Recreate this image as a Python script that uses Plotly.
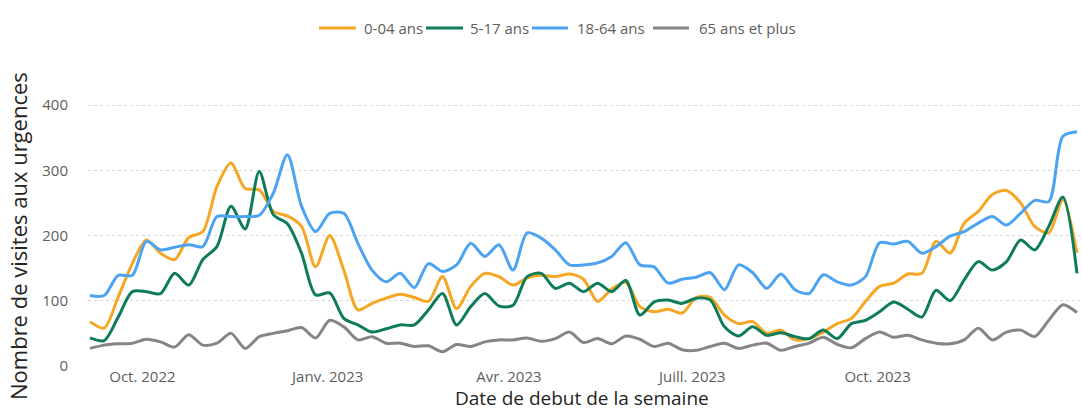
import pandas as pd
import plotly.graph_objects as go

weeks = [d.strftime("%Y-%m-%d") for d in pd.date_range("2022-09-05", periods=71, freq="7D")]

age_0_04 = [68, 58, 106, 157, 193, 173, 163, 197, 206, 275,
            311, 272, 270, 237, 230, 214, 152, 200, 147, 86,
            96, 104, 110, 105, 99, 137, 88, 122, 142, 137,
            124, 135, 139, 137, 141, 133, 99, 118, 128, 91,
            83, 87, 81, 105, 105, 78, 65, 68, 50, 55,
            40, 42, 52, 65, 73, 99, 122, 127, 141, 142,
            191, 173, 219, 237, 263, 269, 250, 214, 204, 255,
            173]
age_5_17 = [43, 39, 75, 114, 114, 111, 142, 124, 163, 183,
            245, 210, 298, 232, 218, 173, 109, 112, 73, 63,
            52, 57, 63, 63, 86, 111, 63, 91, 111, 92,
            93, 137, 142, 119, 127, 114, 127, 114, 131, 78,
            98, 101, 96, 104, 101, 60, 46, 60, 47, 51,
            45, 42, 55, 42, 65, 70, 83, 98, 87, 75,
            116, 100, 132, 160, 147, 160, 193, 178, 214, 259,
            142]
age_18_64 = [108, 108, 139, 139, 191, 178, 182, 186, 183, 229,
             229, 229, 231, 265, 324, 245, 206, 234, 234, 188,
             147, 129, 142, 120, 157, 145, 155, 188, 168, 186,
             147, 204, 196, 178, 155, 155, 158, 168, 189, 155,
             152, 127, 133, 136, 143, 117, 155, 143, 119, 141,
             117, 111, 140, 129, 124, 137, 189, 187, 191, 173,
             183, 199, 206, 219, 229, 216, 234, 254, 252, 352,
             359]
age_65_plus = [27, 32, 34, 35, 41, 37, 29, 48, 32, 35,
               50, 27, 45, 50, 54, 59, 43, 70, 60, 40,
               45, 35, 35, 30, 31, 22, 33, 30, 37, 40,
               40, 43, 38, 42, 52, 36, 42, 34, 46, 41,
               30, 35, 25, 24, 30, 35, 27, 32, 35, 24,
               30, 35, 44, 33, 28, 42, 52, 44, 47, 40,
               35, 34, 40, 58, 40, 52, 55, 45, 70, 94,
               82]

series_names = ["0-04 ans", "5-17 ans", "18-64 ans", "65 ans et plus"]
series_values = [age_0_04, age_5_17, age_18_64, age_65_plus]
colors = ["#F5A623", "#0E7C5A", "#4BA3F2", "#858585"]

x_tick_vals = ["2022-10-01", "2023-01-01", "2023-04-01", "2023-07-01", "2023-10-01"]
x_tick_text = ["Oct. 2022", "Janv. 2023", "Avr. 2023", "Juill. 2023", "Oct. 2023"]
y_tick_vals = [0, 100, 200, 300, 400]

FONT = "Segoe UI, Open Sans, sans-serif"
W, H = 1082, 411
ML, MR, MT, MB = 88, 2, 92, 45
PW, PH = W - ML - MR, H - MT - MB


def px_x(px):
    return (px - ML) / PW


def px_y(py):
    return (H - MB - py) / PH


fig = go.Figure()
for name, vals, col in zip(series_names, series_values, colors):
    fig.add_trace(go.Scatter(
        x=weeks, y=vals, name=name, mode="lines", showlegend=False,
        line=dict(color=col, width=3, shape="spline", smoothing=0.8),
    ))

# custom legend (line swatch + label) centred above the plot
legend_y = 28
legend_lines = [(319, 356), (426, 463), (532, 568), (653, 689)]
legend_text_x = [362, 468, 575, 697]
shapes = []
annotations = []
for name, col, (x0, x1), tx in zip(series_names, colors, legend_lines, legend_text_x):
    shapes.append(dict(type="line", xref="paper", yref="paper",
                       x0=px_x(x0), x1=px_x(x1), y0=px_y(legend_y), y1=px_y(legend_y),
                       line=dict(color=col, width=3)))
    annotations.append(dict(text=name, xref="paper", yref="paper",
                            x=px_x(tx), y=px_y(legend_y), xanchor="left", yanchor="middle",
                            showarrow=False, font=dict(size=15, color="#605E5C", family=FONT)))

annotations += [
    dict(text="Nombre de visites aux urgences", xref="paper", yref="paper",
         x=px_x(18), y=px_y(236), xanchor="center", yanchor="middle",
         textangle=-90, showarrow=False,
         font=dict(size=22, color="#252423", family=FONT)),
    dict(text="Date de debut de la semaine", xref="paper", yref="paper",
         x=px_x(582), y=px_y(398), xanchor="center", yanchor="middle",
         showarrow=False, font=dict(size=19, color="#252423", family=FONT)),
]

fig.update_layout(
    width=W, height=H,
    margin=dict(l=ML, r=MR, t=MT, b=MB),
    paper_bgcolor="white", plot_bgcolor="white",
    font=dict(family=FONT, color="#605E5C"),
    showlegend=False,
    xaxis=dict(
        type="date", range=["2022-09-04", "2024-01-09 12:00"],
        tickvals=x_tick_vals, ticktext=x_tick_text,
        showgrid=False, zeroline=False, showline=False,
        tickfont=dict(size=15, color="#605E5C"),
    ),
    yaxis=dict(
        range=[0, 420], tickvals=y_tick_vals,
        showgrid=True, gridcolor="#D6D6D6", griddash="dot", gridwidth=1,
        zeroline=False, showline=False,
        tickfont=dict(size=15, color="#605E5C"),
        ticklabelstandoff=19,
    ),
    shapes=shapes,
    annotations=annotations,
)

fig.write_html("out.html", config={"displayModeBar": False},
               post_script="document.body.style.margin='0';document.body.style.overflow='hidden';")
